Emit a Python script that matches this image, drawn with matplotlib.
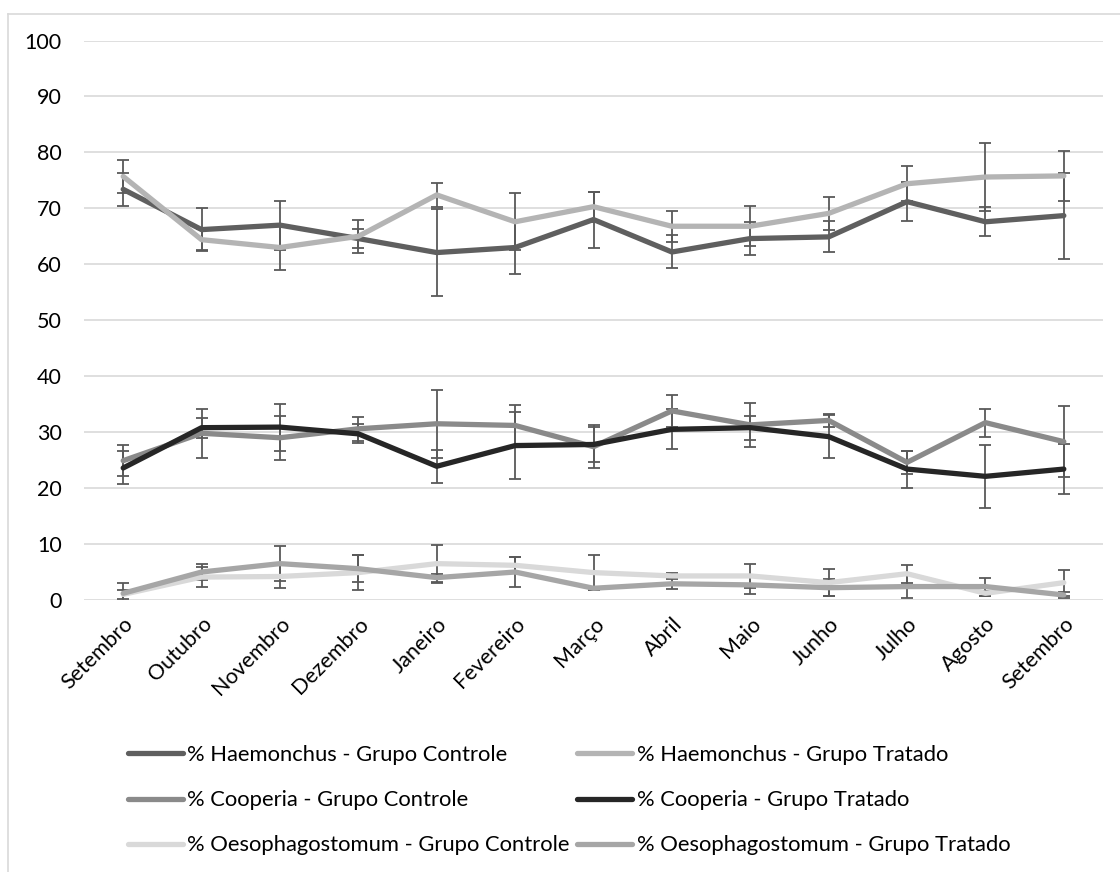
import matplotlib
matplotlib.use("Agg")
import matplotlib.pyplot as plt
from matplotlib.lines import Line2D
import numpy as np

months = ['Setembro', 'Outubro', 'Novembro', 'Dezembro', 'Janeiro', 'Fevereiro',
          'Março', 'Abril', 'Maio', 'Junho', 'Julho', 'Agosto', 'Setembro']
y_ticks = [0, 10, 20, 30, 40, 50, 60, 70, 80, 90, 100]

haem_ctrl = [73.4, 66.2, 67.0, 64.6, 62.1, 63.0, 68.0, 62.2, 64.6, 64.9, 71.2, 67.6, 68.7]
haem_ctrl_err = [3.0, 3.9, 4.4, 1.7, 7.8, 4.8, 5.0, 2.95, 3.0, 2.75, 3.5, 2.6, 7.7]
haem_trat = [75.7, 64.4, 63.0, 65.0, 72.4, 67.6, 70.3, 66.8, 66.8, 69.1, 74.4, 75.6, 75.8]
haem_trat_err = [3.0, 1.9, 4.0, 2.9, 2.2, 5.1, 2.7, 2.8, 3.6, 2.9, 3.1, 6.0, 4.5]

coop_ctrl = [24.9, 29.8, 29.0, 30.6, 31.5, 31.2, 27.4, 33.8, 31.3, 32.1, 24.6, 31.7, 28.3]
coop_ctrl_err = [2.75, 4.35, 3.9, 2.1, 6.1, 3.7, 3.8, 2.9, 3.9, 1.1, 2.1, 2.5, 6.4]
coop_trat = [23.6, 30.8, 30.9, 29.7, 23.9, 27.6, 27.8, 30.5, 30.8, 29.2, 23.4, 22.1, 23.4]
coop_trat_err = [2.95, 1.8, 4.2, 1.7, 2.9, 6.0, 3.1, 3.6, 2.15, 3.8, 3.3, 5.6, 4.4]

oeso_ctrl = [1.0, 4.1, 4.2, 4.9, 6.5, 6.2, 4.9, 4.3, 4.3, 3.1, 4.7, 1.2, 3.1]
oeso_ctrl_err = [0.85, 1.8, 2.0, 3.1, 3.4, 1.4, 3.2, 0.6, 2.1, 2.4, 1.6, 0.4, 2.3]
oeso_trat = [1.2, 5.0, 6.5, 5.6, 4.0, 5.0, 2.1, 2.9, 2.7, 2.2, 2.4, 2.4, 0.9]
oeso_trat_err = [1.8, 1.5, 3.1, 2.4, 0.7, 2.6, 0.3, 1.0, 1.7, 1.5, 2.1, 1.6, 0.5]

series = [
    ('% Haemonchus - Grupo Controle', haem_ctrl, haem_ctrl_err, '#5f5f5f'),
    ('% Haemonchus - Grupo Tratado', haem_trat, haem_trat_err, '#b4b4b4'),
    ('% Cooperia - Grupo Controle', coop_ctrl, coop_ctrl_err, '#8a8a8a'),
    ('% Cooperia - Grupo Tratado', coop_trat, coop_trat_err, '#262626'),
    ('% Oesophagostomum - Grupo Controle', oeso_ctrl, oeso_ctrl_err, '#d9d9d9'),
    ('% Oesophagostomum - Grupo Tratado', oeso_trat, oeso_trat_err, '#a6a6a6'),
]

plt.rcParams['font.family'] = ['Lato', 'DejaVu Sans']
FS = 15.5
LFS = 15.8

W, H = 1120, 872
fig = plt.figure(figsize=(W / 100, H / 100), dpi=100)
ax = fig.add_axes([84 / W, (H - 600) / H, 1019 / W, 559.5 / H])

x = np.arange(len(months))
handles = {}
for label, vals, err, color in series:
    ax.errorbar(x, vals, yerr=err, fmt='none', ecolor='#595959', elinewidth=1.3,
                capsize=4, capthick=1.3, zorder=2)
for label, vals, err, color in series:
    ln, = ax.plot(x, vals, color=color, lw=3.8, solid_capstyle='round',
                  solid_joinstyle='round', zorder=3, label=label)
    handles[label] = ln

ax.set_xlim(-0.5, len(months) - 0.5)
ax.set_ylim(0, 100)
ax.set_yticks(y_ticks)
ax.set_yticklabels([str(v) for v in y_ticks])
ax.set_xticks(x)
ax.set_xticklabels(months, rotation=45, ha='right', rotation_mode='anchor')
ax.grid(axis='y', color='#d9d9d9', lw=1.2, zorder=0)
ax.set_axisbelow(True)
for s in ax.spines.values():
    s.set_visible(False)
ax.tick_params(axis='both', length=0, labelsize=FS, colors='#000000')
ax.tick_params(axis='y', pad=16)
ax.tick_params(axis='x', pad=10)

order = [0, 2, 4, 1, 3, 5]
hl = [handles[series[i][0]] for i in order]
ll = [series[i][0] for i in order]
leg = fig.legend(hl, ll, ncol=2, loc='upper left', bbox_to_anchor=(128 / W, 1 - 745 / H),
                 frameon=False, fontsize=LFS, handlelength=2.5, handletextpad=0.2,
                 columnspacing=0.35, labelspacing=1.15, borderpad=0, borderaxespad=0)

fig.add_artist(Line2D([8 / W, 8 / W], [0, 1 - 14 / H], color='#d9d9d9', lw=1.2,
                      transform=fig.transFigure))
fig.add_artist(Line2D([8 / W, 1], [1 - 14 / H, 1 - 14 / H], color='#d9d9d9', lw=1.2,
                      transform=fig.transFigure))

fig.savefig('out.png', dpi=100)
